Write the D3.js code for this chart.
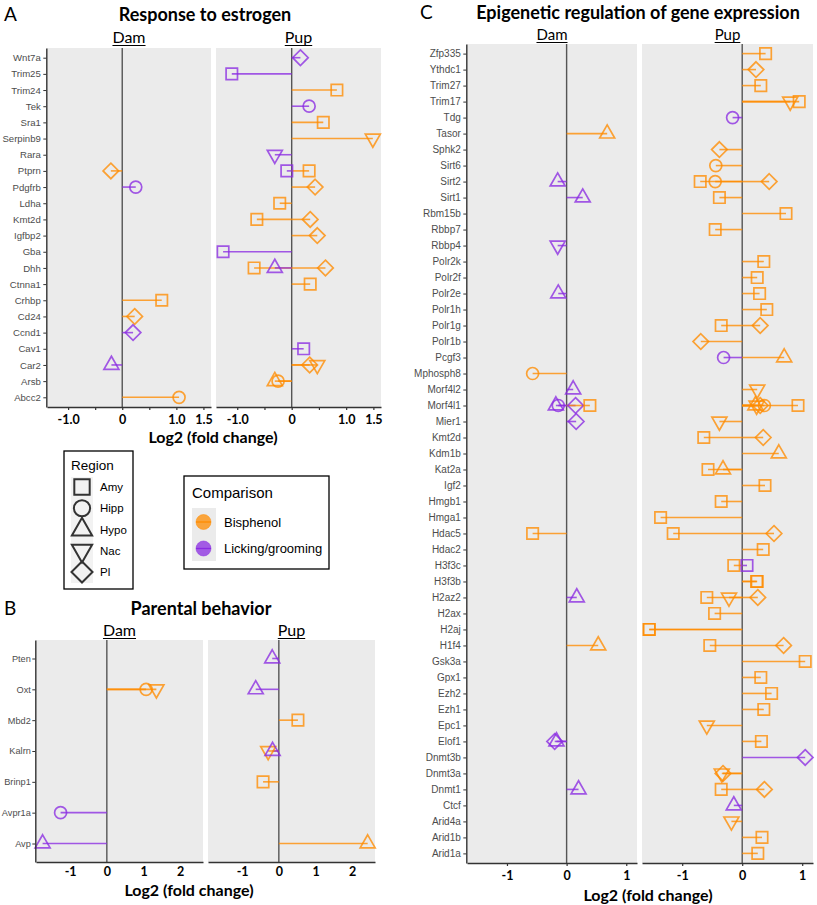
<!DOCTYPE html>
<html>
<head>
<meta charset="utf-8">
<script src="https://cdn.jsdelivr.net/npm/d3@7/dist/d3.min.js"></script>
<style>
body { margin: 0; background: #fff; }
</style>
</head>
<body>
<div class="chart"></div>
<script>
const w = 817;
const h = 905;

const BPA = "Bisphenol";
const LG = "Licking/grooming";

const regions = ["Amy", "Hipp", "Hypo", "Nac", "Pl"];
const comparisons = [BPA, LG];

// A - response to estrogen
const estrogenGenes = ["Wnt7a", "Trim25", "Trim24", "Tek", "Sra1", "Serpinb9", "Rara", "Ptprn", "Pdgfrb", "Ldha",
  "Kmt2d", "Igfbp2", "Gba", "Dhh", "Ctnna1", "Crhbp", "Cd24", "Ccnd1", "Cav1", "Car2", "Arsb", "Abcc2"];
const estrogenDam = [
  ["Ptprn", "Pl", BPA, -0.21],
  ["Pdgfrb", "Hipp", LG, 0.25],
  ["Crhbp", "Amy", BPA, 0.73],
  ["Cd24", "Pl", BPA, 0.23],
  ["Ccnd1", "Pl", LG, 0.2],
  ["Car2", "Hypo", LG, -0.2],
  ["Abcc2", "Hipp", BPA, 1.05]
];
const estrogenPup = [
  ["Wnt7a", "Pl", LG, 0.16],
  ["Trim25", "Amy", LG, -1.1],
  ["Trim24", "Amy", BPA, 0.83],
  ["Tek", "Hipp", LG, 0.32],
  ["Sra1", "Amy", BPA, 0.58],
  ["Serpinb9", "Nac", BPA, 1.49],
  ["Rara", "Nac", LG, -0.31],
  ["Ptprn", "Amy", LG, -0.09],
  ["Ptprn", "Amy", BPA, 0.32],
  ["Pdgfrb", "Pl", BPA, 0.43],
  ["Ldha", "Amy", BPA, -0.22],
  ["Kmt2d", "Amy", BPA, -0.64],
  ["Kmt2d", "Pl", BPA, 0.34],
  ["Igfbp2", "Pl", BPA, 0.47],
  ["Gba", "Amy", LG, -1.26],
  ["Dhh", "Amy", BPA, -0.69],
  ["Dhh", "Hypo", LG, -0.31],
  ["Dhh", "Pl", BPA, 0.62],
  ["Ctnna1", "Amy", BPA, 0.34],
  ["Cav1", "Amy", LG, 0.22],
  ["Car2", "Pl", BPA, 0.33],
  ["Car2", "Nac", BPA, 0.47],
  ["Arsb", "Hypo", BPA, -0.31],
  ["Arsb", "Hipp", BPA, -0.25]
];
const estrogenTicks = [-1, -0.5, 0, 0.5, 1, 1.5];
const estrogenTickLabels = {"-1": "-1.0", "0": "0", "1": "1.0", "1.5": "1.5"};

// B - parental behavior
const behaviorGenes = ["Pten", "Oxt", "Mbd2", "Kalrn", "Brinp1", "Avpr1a", "Avp"];
const behaviorDam = [
  ["Oxt", "Hipp", BPA, 1.07],
  ["Oxt", "Nac", BPA, 1.35],
  ["Avpr1a", "Hipp", LG, -1.26],
  ["Avp", "Hypo", LG, -1.75]
];
const behaviorPup = [
  ["Pten", "Hypo", LG, -0.18],
  ["Oxt", "Hypo", LG, -0.63],
  ["Mbd2", "Amy", BPA, 0.52],
  ["Kalrn", "Nac", BPA, -0.29],
  ["Kalrn", "Hypo", LG, -0.17],
  ["Brinp1", "Amy", BPA, -0.43],
  ["Avp", "Hypo", BPA, 2.42]
];
const behaviorTicks = [-1, 0, 1, 2];

// C - epigenetic regulation
const epiGenes = ["Zfp335", "Ythdc1", "Trim27", "Trim17", "Tdg", "Tasor", "Sphk2", "Sirt6", "Sirt2", "Sirt1",
  "Rbm15b", "Rbbp7", "Rbbp4", "Polr2k", "Polr2f", "Polr2e", "Polr1h", "Polr1g", "Polr1b", "Pcgf3",
  "Mphosph8", "Morf4l2", "Morf4l1", "Mier1", "Kmt2d", "Kdm1b", "Kat2a", "Igf2", "Hmgb1", "Hmga1",
  "Hdac5", "Hdac2", "H3f3c", "H3f3b", "H2az2", "H2ax", "H2aj", "H1f4", "Gsk3a", "Gpx1",
  "Ezh2", "Ezh1", "Epc1", "Elof1", "Dnmt3b", "Dnmt3a", "Dnmt1", "Ctcf", "Arid4a", "Arid1b", "Arid1a"];
const epiDam = [
  ["Tasor", "Hypo", BPA, 0.68],
  ["Sirt2", "Hypo", LG, -0.15],
  ["Sirt1", "Hypo", LG, 0.27],
  ["Rbbp4", "Nac", LG, -0.15],
  ["Polr2e", "Hypo", LG, -0.14],
  ["Mphosph8", "Hipp", BPA, -0.57],
  ["Morf4l2", "Hypo", LG, 0.11],
  ["Morf4l1", "Hypo", LG, -0.18],
  ["Morf4l1", "Hipp", LG, -0.14],
  ["Morf4l1", "Pl", LG, 0.15],
  ["Morf4l1", "Amy", BPA, 0.39],
  ["Mier1", "Pl", LG, 0.16],
  ["Hdac5", "Amy", BPA, -0.57],
  ["H2az2", "Hypo", LG, 0.17],
  ["H1f4", "Hypo", BPA, 0.53],
  ["Elof1", "Pl", LG, -0.2],
  ["Elof1", "Hypo", LG, -0.17],
  ["Dnmt1", "Hypo", LG, 0.2]
];
const epiPup = [
  ["Zfp335", "Amy", BPA, 0.39],
  ["Ythdc1", "Pl", BPA, 0.23],
  ["Trim27", "Amy", BPA, 0.31],
  ["Trim17", "Nac", BPA, 0.8],
  ["Trim17", "Amy", BPA, 0.95],
  ["Tdg", "Hipp", LG, -0.16],
  ["Sphk2", "Pl", BPA, -0.38],
  ["Sirt6", "Hipp", BPA, -0.44],
  ["Sirt2", "Amy", BPA, -0.7],
  ["Sirt2", "Hipp", BPA, -0.45],
  ["Sirt2", "Pl", BPA, 0.45],
  ["Sirt1", "Amy", BPA, -0.38],
  ["Rbm15b", "Amy", BPA, 0.73],
  ["Rbbp7", "Amy", BPA, -0.45],
  ["Polr2k", "Amy", BPA, 0.36],
  ["Polr2f", "Amy", BPA, 0.25],
  ["Polr2e", "Amy", BPA, 0.29],
  ["Polr1h", "Amy", BPA, 0.41],
  ["Polr1g", "Amy", BPA, -0.35],
  ["Polr1g", "Pl", BPA, 0.3],
  ["Polr1b", "Pl", BPA, -0.69],
  ["Pcgf3", "Hipp", LG, -0.31],
  ["Pcgf3", "Hypo", BPA, 0.7],
  ["Morf4l2", "Nac", BPA, 0.25],
  ["Morf4l1", "Hypo", BPA, 0.22],
  ["Morf4l1", "Nac", BPA, 0.24],
  ["Morf4l1", "Pl", BPA, 0.3],
  ["Morf4l1", "Hipp", BPA, 0.37],
  ["Morf4l1", "Amy", BPA, 0.93],
  ["Mier1", "Nac", BPA, -0.38],
  ["Kmt2d", "Amy", BPA, -0.64],
  ["Kmt2d", "Pl", BPA, 0.35],
  ["Kdm1b", "Hypo", BPA, 0.61],
  ["Kat2a", "Amy", BPA, -0.57],
  ["Kat2a", "Hypo", BPA, -0.32],
  ["Igf2", "Amy", BPA, 0.38],
  ["Hmgb1", "Amy", BPA, -0.35],
  ["Hmga1", "Amy", BPA, -1.36],
  ["Hdac5", "Amy", BPA, -1.15],
  ["Hdac5", "Pl", BPA, 0.53],
  ["Hdac2", "Amy", BPA, 0.35],
  ["H3f3c", "Amy", BPA, -0.14],
  ["H3f3c", "Amy", LG, 0.08],
  ["H3f3b", "Amy", BPA, 0.24],
  ["H3f3b", "Amy", BPA, 0.25],
  ["H2az2", "Amy", BPA, -0.59],
  ["H2az2", "Nac", BPA, -0.22],
  ["H2az2", "Pl", BPA, 0.26],
  ["H2ax", "Amy", BPA, -0.46],
  ["H2aj", "Amy", BPA, -1.55],
  ["H2aj", "Amy", BPA, -1.55],
  ["H1f4", "Amy", BPA, -0.54],
  ["H1f4", "Pl", BPA, 0.69],
  ["Gsk3a", "Amy", BPA, 1.05],
  ["Gpx1", "Amy", BPA, 0.31],
  ["Ezh2", "Amy", BPA, 0.49],
  ["Ezh1", "Amy", BPA, 0.36],
  ["Epc1", "Nac", BPA, -0.59],
  ["Elof1", "Amy", BPA, 0.32],
  ["Dnmt3b", "Pl", LG, 1.05],
  ["Dnmt3a", "Nac", BPA, -0.34],
  ["Dnmt3a", "Pl", BPA, -0.32],
  ["Dnmt1", "Amy", BPA, -0.35],
  ["Dnmt1", "Pl", BPA, 0.37],
  ["Ctcf", "Hypo", LG, -0.14],
  ["Arid4a", "Nac", BPA, -0.18],
  ["Arid1b", "Amy", BPA, 0.33],
  ["Arid1a", "Amy", BPA, 0.26]
];
const epiTicks = [-1, 0, 1];

const color = d3.scaleOrdinal().domain(comparisons).range(["#FF8C00", "#8A2BE2"]);
const shape = d3.scaleOrdinal().domain(regions).range(["square", "circle", "triangle", "nabla", "diamond"]);

function shapePath(name, s) {
  if (name == "square") { const a = 5.7 * s; return `M${-a},${-a}H${a}V${a}H${-a}Z`; }
  if (name == "circle") { const r = 6 * s; return `M${r},0A${r},${r} 0 1,1 ${-r},0A${r},${r} 0 1,1 ${r},0Z`; }
  if (name == "diamond") { const d = 7.8 * s; return `M0,${-d}L${d},0L0,${d}L${-d},0Z`; }
  const a = 7.5 * s, t = 8.7 * s, b = 4.4 * s;
  if (name == "triangle") return `M0,${-t}L${a},${b}L${-a},${b}Z`;
  return `M0,${t}L${a},${-b}L${-a},${-b}Z`;
}

const svg = d3.select(".chart")
  .append("svg")
  .attr("width", w)
  .attr("height", h);

const titleFont = "Lato, 'Open Sans', sans-serif";
const labelFont = "'Liberation Sans', Arial, sans-serif";
const plainFmt = d => String(d);

function drawFacet(cfg) {
  const x = d3.scaleLinear().domain(cfg.domain).range([cfg.left, cfg.right]);
  const y = d3.scalePoint().domain(cfg.genes).range([cfg.top, cfg.bottom]).padding(0.6);
  const g = svg.append("g");

  g.append("rect")
    .attr("x", cfg.left)
    .attr("y", cfg.top)
    .attr("width", cfg.right - cfg.left)
    .attr("height", cfg.bottom - cfg.top)
    .attr("fill", "#EBEBEB");

  g.append("line")
    .attr("x1", x(0)).attr("x2", x(0))
    .attr("y1", cfg.top).attr("y2", cfg.bottom)
    .attr("stroke", "#555")
    .attr("stroke-width", 1.4);

  g.selectAll(".seg")
    .data(cfg.data)
    .enter().append("line")
    .attr("class", "seg")
    .attr("x1", x(0))
    .attr("x2", d => x(d[3]))
    .attr("y1", d => y(d[0]))
    .attr("y2", d => y(d[0]))
    .attr("stroke", d => color(d[2]))
    .attr("stroke-opacity", 0.78)
    .attr("stroke-width", 1.6);

  g.selectAll(".pt")
    .data(cfg.data)
    .enter().append("path")
    .attr("class", "pt")
    .attr("d", d => shapePath(shape(d[1]), 1))
    .attr("transform", d => `translate(${x(d[3])},${y(d[0])})`)
    .attr("fill", "none")
    .attr("stroke", d => color(d[2]))
    .attr("stroke-opacity", 0.78)
    .attr("stroke-width", 1.7);

  const xAxis = g.append("g")
    .attr("transform", `translate(0,${cfg.bottom})`)
    .call(d3.axisBottom(x).tickValues(cfg.ticks).tickFormat(cfg.fmt).tickSize(cfg.tickLen).tickSizeOuter(0));
  xAxis.select(".domain").attr("stroke", "#333").attr("stroke-width", 1.4);
  xAxis.selectAll(".tick line").attr("stroke", "#333").attr("stroke-width", 1.2);
  xAxis.selectAll(".tick text")
    .attr("y", cfg.labelGap)
    .attr("fill", "#000")
    .style("font-family", titleFont)
    .style("font-weight", "bold")
    .style("font-size", "12.5px");

  if (cfg.showY) {
    const yAxis = g.append("g")
      .attr("transform", `translate(${cfg.left - 0.7},0)`)
      .call(d3.axisLeft(y).tickSize(3).tickPadding(cfg.yPad).tickSizeOuter(0));
    yAxis.select(".domain").attr("stroke", "#333").attr("stroke-width", 1.4);
    yAxis.selectAll(".tick line").attr("stroke", "#333");
    yAxis.selectAll(".tick text")
      .attr("fill", "#4D4D4D")
      .style("font-family", labelFont)
      .style("font-size", cfg.yFont);
  }

  const cx = (cfg.left + cfg.right) / 2;
  const sub = g.append("text")
    .attr("x", cx)
    .attr("y", cfg.subY)
    .attr("text-anchor", "middle")
    .style("font-family", titleFont)
    .style("font-size", cfg.subFont)
    .text(cfg.subtitle);
  const tw = sub.node().getComputedTextLength();
  g.append("line")
    .attr("x1", cx - tw / 2).attr("x2", cx + tw / 2)
    .attr("y1", cfg.subY + 2.5).attr("y2", cfg.subY + 2.5)
    .attr("stroke", "#000")
    .attr("stroke-width", 1);
}

function heading(letter, lx, title, tx, ty) {
  svg.append("text")
    .attr("x", lx).attr("y", ty)
    .style("font-family", titleFont)
    .style("font-size", "19px")
    .text(letter);
  svg.append("text")
    .attr("x", tx).attr("y", ty)
    .attr("text-anchor", "middle")
    .style("font-family", titleFont)
    .style("font-weight", "bold")
    .style("font-size", "18px")
    .text(title);
}

function xTitle(cx, cy) {
  svg.append("text")
    .attr("x", cx).attr("y", cy)
    .attr("text-anchor", "middle")
    .style("font-family", titleFont)
    .style("font-weight", "bold")
    .style("font-size", "16px")
    .text("Log2 (fold change)");
}

// panel A
heading("A", 4, "Response to estrogen", 205, 21);
const fmtA = d => estrogenTickLabels[String(d)] || "";
drawFacet({genes: estrogenGenes, data: estrogenDam, domain: [-1.39, 1.64], left: 47, right: 211, top: 48, bottom: 407,
  ticks: estrogenTicks, fmt: fmtA, tickLen: 3, labelGap: 8, showY: true, yFont: "9.6px", yPad: 2.5,
  subtitle: "Dam", subY: 43, subFont: "16px"});
drawFacet({genes: estrogenGenes, data: estrogenPup, domain: [-1.39, 1.64], left: 216, right: 381, top: 48, bottom: 407,
  ticks: estrogenTicks, fmt: fmtA, tickLen: 3, labelGap: 8, showY: false,
  subtitle: "Pup", subY: 43, subFont: "16px"});
xTitle(213, 443);

// panel B
heading("B", 4, "Parental behavior", 201, 615);
drawFacet({genes: behaviorGenes, data: behaviorDam, domain: [-1.93, 2.62], left: 36, right: 203, top: 640, bottom: 862,
  ticks: behaviorTicks, fmt: plainFmt, tickLen: 0, labelGap: 5, showY: true, yFont: "9.2px", yPad: 1.5,
  subtitle: "Dam", subY: 636, subFont: "16px"});
drawFacet({genes: behaviorGenes, data: behaviorPup, domain: [-1.93, 2.62], left: 208, right: 375, top: 640, bottom: 862,
  ticks: behaviorTicks, fmt: plainFmt, tickLen: 0, labelGap: 5, showY: false,
  subtitle: "Pup", subY: 636, subFont: "16px"});
xTitle(189, 896);

// panel C
heading("C", 420, "Epigenetic regulation of gene expression", 638, 19);
drawFacet({genes: epiGenes, data: epiDam, domain: [-1.67, 1.18], left: 467, right: 637, top: 44, bottom: 863,
  ticks: epiTicks, fmt: plainFmt, tickLen: 3, labelGap: 8, showY: true, yFont: "10px", yPad: 2.5,
  subtitle: "Dam", subY: 40, subFont: "15px"});
drawFacet({genes: epiGenes, data: epiPup, domain: [-1.67, 1.18], left: 642, right: 813, top: 44, bottom: 863,
  ticks: epiTicks, fmt: plainFmt, tickLen: 3, labelGap: 8, showY: false,
  subtitle: "Pup", subY: 40, subFont: "15px"});
xTitle(648, 901);

// legend: region shapes
const regionLegend = svg.append("g");
regionLegend.append("rect")
  .attr("x", 64).attr("y", 451).attr("width", 69).attr("height", 138)
  .attr("fill", "#fff").attr("stroke", "#000").attr("stroke-width", 1.3);
regionLegend.append("text")
  .attr("x", 71).attr("y", 470)
  .style("font-family", labelFont).style("font-size", "13.5px")
  .text("Region");
regionLegend.append("rect")
  .attr("x", 71).attr("y", 477).attr("width", 22).attr("height", 106)
  .attr("fill", "#F2F2F2");
const regionKey = d3.scalePoint().domain(regions).range([487, 572]);
regionLegend.selectAll(".key")
  .data(regions)
  .enter().append("path")
  .attr("class", "key")
  .attr("d", d => shapePath(shape(d), 1.35))
  .attr("transform", d => `translate(82,${regionKey(d)})`)
  .attr("fill", "none")
  .attr("stroke", "#333")
  .attr("stroke-width", 2);
regionLegend.selectAll(".lab")
  .data(regions)
  .enter().append("text")
  .attr("class", "lab")
  .attr("x", 100).attr("y", d => regionKey(d) + 4)
  .style("font-family", labelFont).style("font-size", "11.5px")
  .text(d => d);

// legend: comparison colours
const compLegend = svg.append("g");
compLegend.append("rect")
  .attr("x", 184).attr("y", 476).attr("width", 145).attr("height", 93)
  .attr("fill", "#fff").attr("stroke", "#000").attr("stroke-width", 1.3);
compLegend.append("text")
  .attr("x", 192).attr("y", 498)
  .style("font-family", labelFont).style("font-size", "15px")
  .text("Comparison");
compLegend.append("rect")
  .attr("x", 192).attr("y", 508).attr("width", 24).attr("height", 53)
  .attr("fill", "#EBEBEB");
const compKey = d3.scalePoint().domain(comparisons).range([522, 548.5]);
compLegend.selectAll(".dot")
  .data(comparisons)
  .enter().append("circle")
  .attr("class", "dot")
  .attr("cx", 203.5).attr("cy", d => compKey(d))
  .attr("r", 7.5)
  .attr("fill", d => color(d))
  .attr("fill-opacity", 0.75)
  .attr("stroke", d => color(d))
  .attr("stroke-opacity", 0.5);
compLegend.selectAll(".bar")
  .data(comparisons)
  .enter().append("line")
  .attr("class", "bar")
  .attr("x1", 196).attr("x2", 211)
  .attr("y1", d => compKey(d)).attr("y2", d => compKey(d))
  .attr("stroke", d => color(d))
  .attr("stroke-width", 1.3);
compLegend.selectAll(".lab")
  .data(comparisons)
  .enter().append("text")
  .attr("class", "lab")
  .attr("x", 224).attr("y", d => compKey(d) + 4.5)
  .style("font-family", labelFont).style("font-size", "13px")
  .text(d => d);
</script>
</body>
</html>
